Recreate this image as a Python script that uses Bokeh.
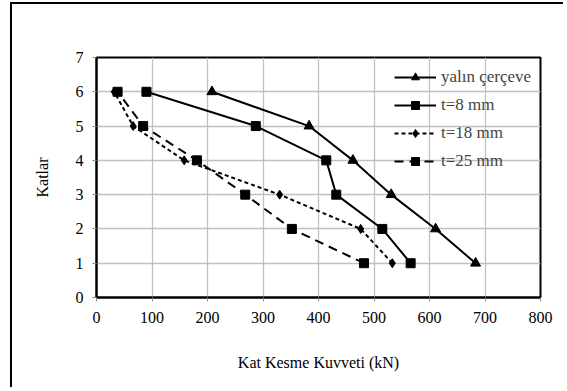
from bokeh.plotting import figure
from bokeh.models import FixedTicker, Range1d
from bokeh.embed import file_html
from bokeh.resources import INLINE

# Story shear force per floor (kN)
floors = [1, 2, 3, 4, 5, 6]
yalin_cerceve = [683, 611, 531, 462, 383, 208]
t8_mm = [566, 515, 432, 414, 287, 90]
t18_mm = [533, 476, 330, 158, 66, 32]
t25_mm = [482, 352, 268, 181, 84, 38]

x_ticks = [0, 100, 200, 300, 400, 500, 600, 700, 800]
y_ticks = [0, 1, 2, 3, 4, 5, 6, 7]

FONT = "Liberation Serif"

p = figure(
    width=553, height=385,
    output_backend="svg", toolbar_location=None,
    x_range=Range1d(0, 800), y_range=Range1d(0, 7),
    min_border_left=84, min_border_right=25,
    min_border_top=53, min_border_bottom=92,
    x_axis_label="Kat Kesme Kuvveti (kN)", y_axis_label="Katlar",
)
p.margin = (2, 0, 0, 10)
p.styles = {"border-left": "2px solid black", "border-top": "2px solid black"}

p.outline_line_color = "black"
p.outline_line_width = 2

for ax in (p.xaxis, p.yaxis):
    ax.axis_line_color = "black"
    ax.axis_line_width = 2
    ax.major_tick_line_color = "#8c8c8c"
    ax.major_tick_out = 4
    ax.major_tick_in = 0
    ax.minor_tick_line_color = None
    ax.major_label_text_font = FONT
    ax.major_label_text_font_size = "16px"
    ax.major_label_text_color = "black"
    ax.axis_label_text_font = FONT
    ax.axis_label_text_font_size = "16px"
    ax.axis_label_text_font_style = "normal"
    ax.axis_label_text_color = "black"

p.xaxis.ticker = FixedTicker(ticks=x_ticks)
p.yaxis.ticker = FixedTicker(ticks=y_ticks)
p.xaxis.major_label_standoff = 10
p.xaxis.axis_label_standoff = 28
p.yaxis.major_label_standoff = 9
p.yaxis.axis_label_standoff = 22

p.grid.grid_line_color = "#c0c0c0"
p.grid.grid_line_width = 1.3

# solid series
p.line(yalin_cerceve, floors, line_color="black", line_width=2, legend_label="yalın çerçeve")
p.scatter(yalin_cerceve, floors, marker="triangle", size=10, color="black", legend_label="yalın çerçeve")
p.line(t8_mm, floors, line_color="black", line_width=2, legend_label="t=8 mm")
p.scatter(t8_mm, floors, marker="square", size=9, color="black", legend_label="t=8 mm")

# dashed series
p.line(t18_mm, floors, line_color="black", line_width=2, line_dash="4 3", legend_label="t=18 mm")
p.scatter(t18_mm, floors, marker="diamond", size=9, color="black", legend_label="t=18 mm")
p.line(t25_mm, floors, line_color="black", line_width=2, line_dash="9 6", legend_label="t=25 mm")
p.scatter(t25_mm, floors, marker="square", size=9, color="black", legend_label="t=25 mm")

# legend anchored by its lower-left corner, in pixels from the frame's lower-left
lg = p.legend[0]
lg.location = (298, 126)
lg.background_fill_alpha = 0
lg.border_line_color = None
lg.label_text_font = FONT
lg.label_text_font_size = "17px"
lg.glyph_width = 42
lg.glyph_height = 20
lg.label_height = 20
lg.spacing = 8
lg.padding = 6
lg.margin = 0
lg.label_standoff = 5

open("out.html", "w").write(file_html(p, INLINE))
